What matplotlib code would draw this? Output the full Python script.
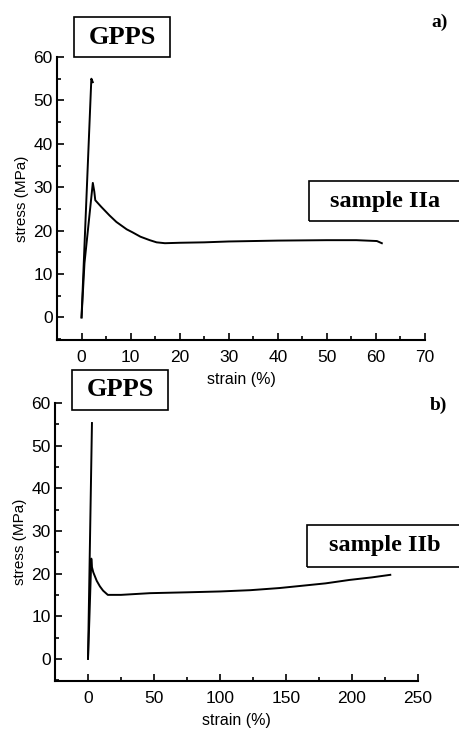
import numpy as np
import matplotlib
matplotlib.use("Agg")
import matplotlib.pyplot as plt
from matplotlib.patches import Rectangle
from matplotlib.ticker import MultipleLocator

plt.rcParams['font.family'] = ['Liberation Sans', 'DejaVu Sans']

# panel a) data
gpps_a_x = [0, 2.0, 2.3]
gpps_a_y = [0, 55, 54.2]
iia_x = [0, 0.6, 2.3, 2.6, 2.8, 4, 5.7, 7.1, 9.2, 10.4, 12, 13.9, 15.3, 17, 20,
         25, 30, 40, 50, 56, 60.2, 61.2]
iia_y = [0, 12.5, 31, 29, 27, 25.5, 23.5, 22, 20.3, 19.6, 18.6, 17.8, 17.3, 17.1,
         17.2, 17.3, 17.5, 17.7, 17.8, 17.8, 17.6, 17.1]

# panel b) data
gpps_b_x = [0, 3]
gpps_b_y = [0, 55.3]
iib_x = [0, 1, 2.5, 3, 4, 6.6, 9, 11.4, 15, 25, 47, 75, 100, 123, 145, 161, 180,
         198, 215, 229]
iib_y = [0, 9, 23.5, 21.5, 20.3, 18.3, 17, 16, 15, 15, 15.4, 15.6, 15.8, 16.1,
         16.6, 17.1, 17.7, 18.5, 19.1, 19.7]

W, H = 459, 730
fig = plt.figure(figsize=(W / 100, H / 100), dpi=100)


def fx(x):
    return x / W


def fy(y):
    return 1 - y / H


def make_axes(l, r, t, b):
    return fig.add_axes([fx(l), fy(b), fx(r) - fx(l), fy(t) - fy(b)])


def style(ax, xlim, xmaj, xmin):
    ax.set_xlim(*xlim)
    ax.set_ylim(-5.2, 60)
    ax.spines['top'].set_visible(False)
    ax.spines['right'].set_visible(False)
    ax.spines['left'].set_linewidth(1.5)
    ax.spines['bottom'].set_linewidth(1.5)
    ax.xaxis.set_major_locator(MultipleLocator(xmaj))
    ax.xaxis.set_minor_locator(MultipleLocator(xmin))
    ax.yaxis.set_major_locator(MultipleLocator(10))
    ax.yaxis.set_minor_locator(MultipleLocator(5))
    ax.tick_params(which='both', direction='in', width=1.2, labelsize=12.5)
    ax.tick_params(which='major', length=5)
    ax.tick_params(which='minor', length=3)
    ax.tick_params(axis='x', which='major', pad=7)
    ax.tick_params(axis='y', which='major', pad=3)
    ax.set_xticks(np.arange(0, xlim[1] + 0.1, xmaj))
    ax.set_ylabel("stress (MPa)", fontsize=11, labelpad=3)
    ax.set_xlabel("strain (%)", fontsize=11.5, labelpad=5)


def box_text(l, t, r, b, text, size):
    fig.patches.append(Rectangle((fx(l), fy(b)), fx(r) - fx(l), fy(t) - fy(b),
                                 transform=fig.transFigure, fill=False,
                                 edgecolor='black', linewidth=1.2))
    fig.text(fx((l + r) / 2), fy((t + b) / 2), text, ha='center', va='center',
             fontsize=size, fontweight='bold', family='Liberation Serif')


ax1 = make_axes(57, 425, 57, 340)
ax1.plot(gpps_a_x, gpps_a_y, color='black', lw=1.4)
ax1.plot(iia_x, iia_y, color='black', lw=1.4)
style(ax1, (-5, 70), 10, 5)

ax2 = make_axes(55, 418, 403, 681)
ax2.plot(gpps_b_x, gpps_b_y, color='black', lw=1.4)
ax2.plot(iib_x, iib_y, color='black', lw=1.4)
style(ax2, (-25, 250), 50, 25)

box_text(74, 17, 170, 57, "GPPS", 19)
box_text(72, 370, 168, 410, "GPPS", 19)
box_text(309, 181, 462, 221, "sample IIa", 17.5)
box_text(307, 525, 462, 567, "sample IIb", 17.5)

fig.text(fx(440), fy(22), "a)", ha='center', va='center', fontsize=14,
         fontweight='bold', family='Liberation Serif')
fig.text(fx(438), fy(405), "b)", ha='center', va='center', fontsize=14,
         fontweight='bold', family='Liberation Serif')

fig.savefig("out.png", dpi=100)
